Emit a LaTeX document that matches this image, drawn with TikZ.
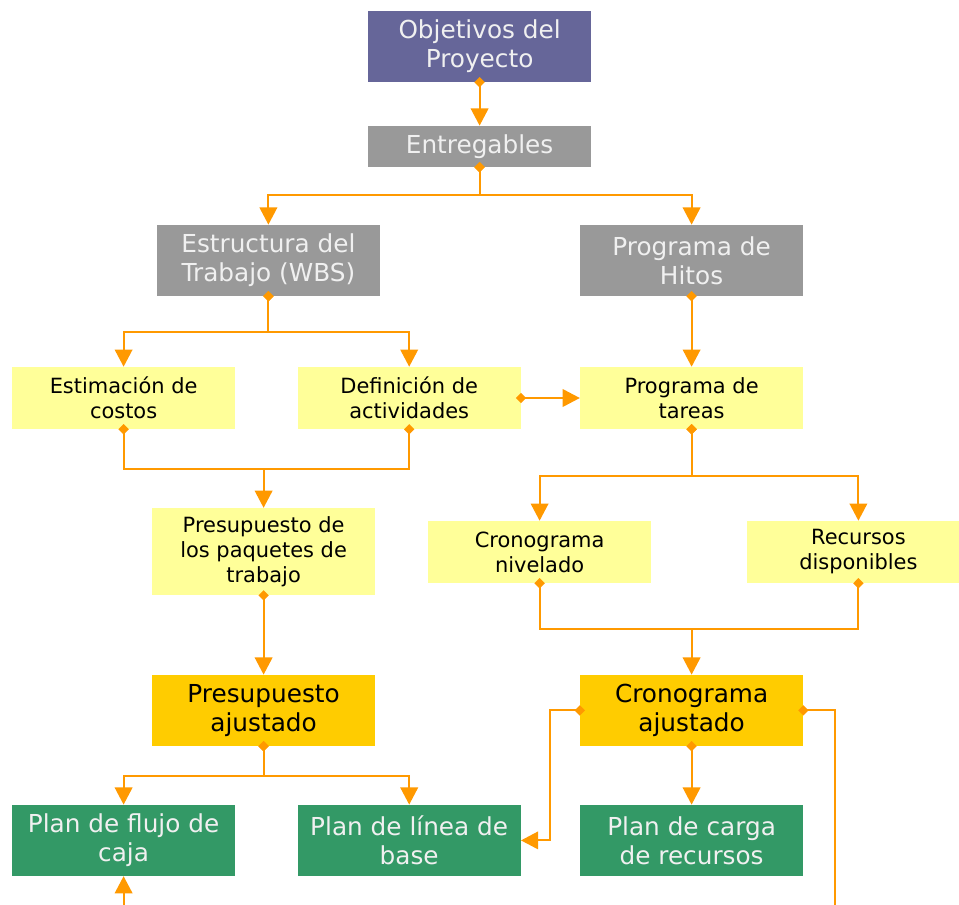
\documentclass[tikz,border=0pt]{standalone}
\usepackage{fontspec}
\setmainfont{DejaVu Sans}
\usetikzlibrary{arrows.meta, positioning}
\definecolor{objcol}{HTML}{666699}
\definecolor{grycol}{HTML}{999999}
\definecolor{ylwcol}{HTML}{FFFF99}
\definecolor{gldcol}{HTML}{FFCC00}
\definecolor{grncol}{HTML}{339966}
\definecolor{orgcol}{HTML}{FF9900}
\begin{document}
\begin{tikzpicture}[
  box/.style={align=center, inner sep=0pt, minimum width=5.575cm},
  big/.style={box, font=\fontsize{17.6}{20.6}\selectfont, text=white!94!black},
  small/.style={box, font=\fontsize{14.9}{17.8}\selectfont, fill=ylwcol},
  arr/.style={{Diamond[length=2.6mm,width=2.6mm]}-{Triangle[length=4.3mm,width=4.4mm]},
              line width=1.4pt, orgcol, shorten <=-1.3mm},
  lnk/.style={{Diamond[length=2.6mm,width=2.6mm]}-, line width=1.4pt, orgcol,
              shorten <=-1.3mm}
]
\useasboundingbox (0,0) rectangle (23.975,-22.625);
% ----- top: objectives and deliverables -----
\node[big, fill=objcol, minimum height=1.775cm] (obj) at (11.99,-1.16) {Objetivos del\\Proyecto};
\node[big, fill=grycol, minimum height=1.025cm] (ent) at (11.99,-3.66) {Entregables};
\node[big, fill=grycol, minimum height=1.775cm] (wbs) at (6.71,-6.51) {Estructura del\\Trabajo (WBS)};
\node[big, fill=grycol, minimum height=1.775cm] (hit) at (17.29,-6.51) {Programa de\\Hitos};
\draw[arr] (obj) -- (ent);
\draw[arr] (ent.south) |- (11.99,-4.875) -| (wbs.north);
\draw[arr] (ent.south) |- (11.99,-4.875) -| (hit.north);
% ----- planning level -----
\node[small, minimum height=1.55cm] (est) at (3.09,-9.95) {Estimación de\\costos};
\node[small, minimum height=1.55cm] (def) at (10.23,-9.95) {Definición de\\actividades};
\node[small, minimum height=1.55cm] (tar) at (17.29,-9.95) {Programa de\\tareas};
\draw[arr] (wbs.south) |- (6.71,-8.3) -| (est.north);
\draw[arr] (wbs.south) |- (6.71,-8.3) -| (def.north);
\draw[arr] (hit) -- (tar);
\draw[arr] (def) -- (tar);
% ----- budget branch -----
\node[small, minimum height=2.175cm] (ppt) at (6.59,-13.79) {Presupuesto de\\los paquetes de\\trabajo};
\node[big, fill=gldcol, text=black, minimum height=1.775cm] (paj) at (6.59,-17.76) {Presupuesto\\ajustado};
\draw[arr] (est.south) |- (6.59,-11.725) -- (ppt.north);
\draw[lnk] (def.south) |- (6.59,-11.725);
\draw[arr] (ppt) -- (paj);
% ----- schedule branch -----
\node[small, minimum height=1.55cm] (niv) at (13.49,-13.8) {Cronograma\\nivelado};
\node[small, minimum height=1.55cm] (rec) at (21.46,-13.8) {Recursos\\disponibles};
\node[big, fill=gldcol, text=black, minimum height=1.775cm] (caj) at (17.29,-17.76) {Cronograma\\ajustado};
\draw[arr] (tar.south) |- (17.29,-11.9) -| (niv.north);
\draw[arr] (tar.south) |- (17.29,-11.9) -| (rec.north);
\draw[arr] (niv.south) |- (17.29,-15.725) -- (caj.north);
\draw[lnk] (rec.south) |- (17.29,-15.725);
% ----- plans -----
\node[big, fill=grncol, minimum height=1.775cm] (flu) at (3.09,-21.01) {Plan de flujo de\\caja};
\node[big, fill=grncol, minimum height=1.775cm] (lin) at (10.23,-21.01) {Plan de línea de\\base};
\node[big, fill=grncol, minimum height=1.775cm] (car) at (17.29,-21.01) {Plan de carga\\de recursos};
\coordinate (outL) at (3.09,-22.625);
\coordinate (outR) at (20.875,-22.625);
\draw[arr] (paj.south) |- (6.59,-19.4) -| (flu.north);
\draw[arr] (paj.south) |- (6.59,-19.4) -| (lin.north);
\draw[arr] (caj.west) -| (13.75,-21.01) -- (lin.east);
\draw[arr] (caj) -- (car);
\draw[lnk] (caj.east) -| (outR);
\draw[-{Triangle[length=4.3mm,width=4.4mm]}, line width=1.4pt, orgcol] (outL) -- (flu.south);
\end{tikzpicture}
\end{document}
